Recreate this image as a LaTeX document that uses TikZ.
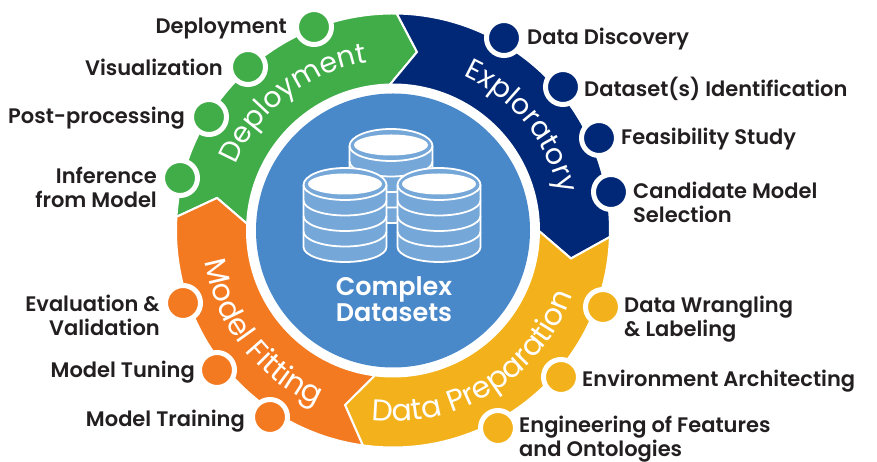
\documentclass[tikz,border=0pt]{standalone}
\usepackage{fontspec}
\setmainfont{Poppins}
\newfontfamily\labelfont{Poppins SemiBold}
\usetikzlibrary{decorations.text}
\definecolor{depgreen}{HTML}{41AD49}
\definecolor{expnavy}{HTML}{012876}
\definecolor{prepyellow}{HTML}{F3B21B}
\definecolor{fitorange}{HTML}{F37A21}
\definecolor{hubblue}{HTML}{4A89C9}
\definecolor{cylblue}{HTML}{75A7D8}
\definecolor{labelink}{HTML}{231F20}
\newcommand{\ringfont}{\color{white}\fontsize{28.5}{30}\selectfont}
\newcommand{\lowringfont}{\color{white}\fontsize{30}{30}\selectfont}
\tikzset{
  segment/.style={fill=#1, draw=white, line width=2pt, line join=miter},
  stepdot/.style={circle, minimum size=35pt, inner sep=0pt, fill=#1, draw=white, line width=5pt},
  steplabel/.style={text=labelink, font=\fontsize{21}{24}\selectfont\labelfont, inner sep=0pt},
  ringtext/.style={decorate, decoration={text along path, text align=center, text={|\ringfont|#1}}},
  lowringtext/.style={decorate, decoration={text along path, text align=center, text={|\lowringfont|#1}}},
}
\begin{document}
\begin{tikzpicture}[x=1pt,y=1pt]
\useasboundingbox (0,0) rectangle (877,462);
\begin{scope}[shift={(393,231.5)}]
\coordinate (tipgb) at (24,178.5);
\coordinate (tipby) at (178,-28);
\coordinate (tipyo) at (-48,-174.5);
\coordinate (tipog) at (-176,32.5);
% ring
\draw[segment=depgreen] (176.4:217) arc[start angle=176.4, end angle=89, radius=217] -- (tipgb) -- (91.2:146) arc[start angle=91.2, end angle=177.4, radius=146] -- (tipog) -- cycle;
\draw[segment=expnavy] (89:217) arc[start angle=89, end angle=-1.7, radius=217] -- (tipby) -- (-0.2:146) arc[start angle=-0.2, end angle=91.2, radius=146] -- (tipgb) -- cycle;
\draw[segment=prepyellow] (-1.7:217) arc[start angle=-1.7, end angle=-98, radius=217] -- (tipyo) -- (-97.15:146) arc[start angle=-97.15, end angle=-0.2, radius=146] -- (tipby) -- cycle;
\draw[segment=fitorange] (-98:217) arc[start angle=-98, end angle=-183.6, radius=217] -- (tipog) -- (-182.6:146) arc[start angle=-182.6, end angle=-97.15, radius=146] -- (tipyo) -- cycle;
\fill[hubblue] (0,0) circle (137);
% ring names
\path[ringtext=Deployment] (178:170) arc[start angle=178, end angle=78, radius=170];
\path[ringtext=Exploratory] (89:170) arc[start angle=89, end angle=-11, radius=170];
\path[lowringtext=Data Preparation] (-117.5:191) arc[start angle=-117.5, end angle=1.5, radius=191];
\path[lowringtext=Model Fitting] (168:191) arc[start angle=168, end angle=268, radius=191];
\end{scope}
% cylinders
\foreach \cx/\cy in {391/316, 345/277, 439/277}{
\begin{scope}[shift={(\cx,\cy)}]
\draw[fill=cylblue, draw=white, line width=1.8pt] (-41.5,0) -- (-41.5,-62) arc[start angle=180, end angle=360, x radius=41.5, y radius=15] -- (41.5,0) arc[start angle=0, end angle=180, x radius=41.5, y radius=17] -- cycle;
\foreach \k in {1,2,3}{
\draw[white, line width=1.8pt] (-41.5,-15.5*\k) arc[start angle=180, end angle=360, x radius=41.5, y radius=15];
}
\draw[white, line width=1.8pt] (-41.5,0) arc[start angle=180, end angle=360, x radius=41.5, y radius=15];
\fill[white] (0,1) ellipse[x radius=37, y radius=10.5];
\end{scope}
}
\node[text=white, font=\fontsize{25.5}{26}\selectfont\labelfont, align=center, inner sep=0pt] (hub) at (394,163) {Complex\\Datasets};
% deployment
\node[stepdot=depgreen] (dep1) at (314,435) {};
\node[stepdot=depgreen] (dep2) at (248,395) {};
\node[stepdot=depgreen] (dep3) at (209,345) {};
\node[stepdot=depgreen] (dep4) at (180,284) {};
\node[steplabel, anchor=east] (lbldep1) at (287,433) {Deployment};
\node[steplabel, anchor=east] (lbldep2) at (223,395) {Visualization};
\node[steplabel, anchor=east] (lbldep3) at (185,344) {Post-processing};
\node[steplabel, anchor=east, align=right] (lbldep4) at (157,275) {Inference\\from Model};
% exploratory
\node[stepdot=expnavy] (exp1) at (504,424) {};
\node[stepdot=expnavy] (exp2) at (563,375) {};
\node[stepdot=expnavy] (exp3) at (599,324) {};
\node[stepdot=expnavy] (exp4) at (611,270) {};
\node[steplabel, anchor=west] (lblexp1) at (527,423) {Data Discovery};
\node[steplabel, anchor=west] (lblexp2) at (584,373) {Dataset(s) Identification};
\node[steplabel, anchor=west] (lblexp3) at (621,323) {Feasibility Study};
\node[steplabel, anchor=west, align=left] (lblexp4) at (633,260) {Candidate Model\\Selection};
% data preparation
\node[stepdot=prepyellow] (prep1) at (603,155) {};
\node[stepdot=prepyellow] (prep2) at (561,85) {};
\node[stepdot=prepyellow] (prep3) at (498,34) {};
\node[steplabel, anchor=west, align=left] (lblprep1) at (624,143) {Data Wrangling\\\& Labeling};
\node[steplabel, anchor=west] (lblprep2) at (582,81) {Environment Architecting};
\node[steplabel, anchor=west, align=left] (lblprep3) at (519,23) {Engineering of Features\\and Ontologies};
% model fitting
\node[stepdot=fitorange] (fit1) at (183,159) {};
\node[stepdot=fitorange] (fit2) at (217,92) {};
\node[stepdot=fitorange] (fit3) at (270,45) {};
\node[steplabel, anchor=east, align=right] (lblfit1) at (160,147) {Evaluation \&\\Validation};
\node[steplabel, anchor=east] (lblfit2) at (195,90) {Model Tuning};
\node[steplabel, anchor=east] (lblfit3) at (245,41) {Model Training};
\end{tikzpicture}
\end{document}
